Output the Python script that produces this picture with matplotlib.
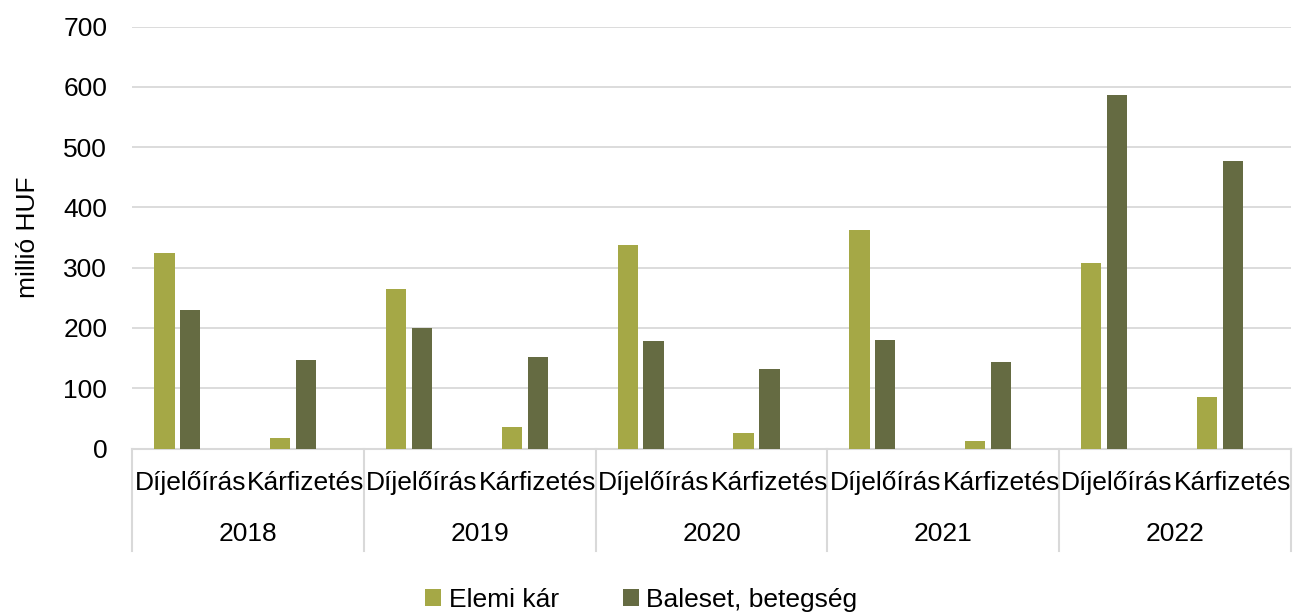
"""Elemi kár / Baleset, betegség bar chart, 2018-2022."""

import matplotlib

matplotlib.use("Agg")
import matplotlib.pyplot as plt
from matplotlib.patches import Patch

plt.rcParams["font.family"] = ["Liberation Sans", "DejaVu Sans"]

YEARS = ["2018", "2019", "2020", "2021", "2022"]
KINDS = ["Díjelőírás", "Kárfizetés"]
SERIES_NAMES = ["Elemi kár", "Baleset, betegség"]
# order: year by year, Díjelőírás then Kárfizetés
ELEMI = [324, 18, 264, 35, 337, 25, 362, 12, 308, 85]
BALESET = [230, 147, 200, 151, 178, 132, 180, 143, 587, 477]

COLORS = ["#A5A846", "#656B42"]
GRID = "#D9D9D9"
FONT = 19


def main() -> int:
    fig = plt.figure(figsize=(12.93, 6.15), dpi=100)
    ax = fig.add_axes([132.3 / 1293, 1 - 448.5 / 615, (1290.7 - 132.3) / 1293, 422 / 615])

    n = len(ELEMI)
    xs = list(range(n))
    width = 0.175
    step = 0.223
    ax.bar([x - step for x in xs], ELEMI, width=width, color=COLORS[0], zorder=3)
    ax.bar(xs, BALESET, width=width, color=COLORS[1], zorder=3)

    ax.set_xlim(-0.5, n - 0.5)
    ax.set_ylim(0, 700)
    ax.set_yticks(range(0, 701, 100))
    ax.yaxis.grid(True, color=GRID, linewidth=1.3, zorder=0)
    ax.set_axisbelow(True)
    ax.tick_params(axis="y", length=0, pad=18, labelsize=FONT)
    ax.set_xticks([])
    for side in ("top", "right", "left"):
        ax.spines[side].set_visible(False)
    ax.spines["bottom"].set_color(GRID)
    ax.spines["bottom"].set_linewidth(1.5)
    ax.set_ylabel("millió HUF", fontsize=FONT, labelpad=17)

    trans = ax.get_xaxis_transform()
    for i in range(n):
        ax.text(i, -0.0818, KINDS[i % 2], transform=trans, ha="center", va="center",
                fontsize=FONT)
    for g, year in enumerate(YEARS):
        ax.text(2 * g + 0.5, -0.2026, year, transform=trans, ha="center", va="center",
                fontsize=FONT)
    for b in range(len(YEARS) + 1):
        ax.plot([2 * b - 0.5, 2 * b - 0.5], [0, -0.243], transform=trans, color=GRID,
                linewidth=1.5, clip_on=False)

    handles = [Patch(facecolor=c, label=name) for c, name in zip(COLORS, SERIES_NAMES)]
    fig.legend(handles=handles, loc="center", bbox_to_anchor=(641.5 / 1293, 1 - 600 / 615),
               ncol=2, frameon=False, fontsize=FONT, handlelength=0.6, handleheight=0.6,
               handletextpad=0.3, columnspacing=2.4, borderpad=0)

    fig.savefig("out.png", dpi=100)
    return 0


if __name__ == "__main__":
    raise SystemExit(main())
